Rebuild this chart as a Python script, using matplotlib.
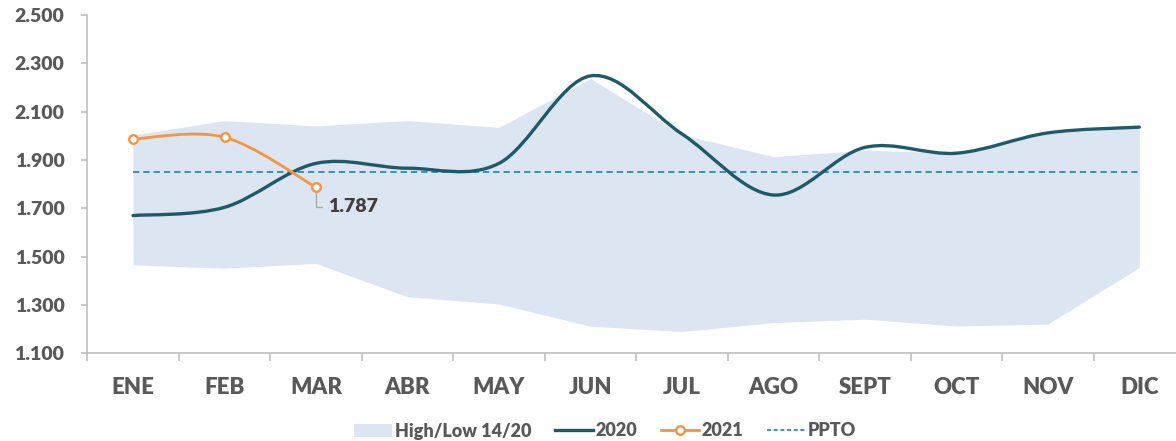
import matplotlib
matplotlib.use("Agg")
import matplotlib.pyplot as plt
import numpy as np
from matplotlib.path import Path
from matplotlib.patches import PathPatch, Patch
from matplotlib.lines import Line2D
from matplotlib.ticker import FixedLocator, FuncFormatter

plt.rcParams['font.family'] = ['Lato', 'DejaVu Sans']
plt.rcParams['font.weight'] = 800

months = ["ENE", "FEB", "MAR", "ABR", "MAY", "JUN", "JUL", "AGO", "SEPT", "OCT", "NOV", "DIC"]
band_low = [1466, 1452, 1472, 1334, 1304, 1212, 1190, 1227, 1241, 1213, 1221, 1455]
band_high = [2003, 2063, 2041, 2063, 2035, 2237, 2005, 1914, 1941, 1928, 2010, 2035]
s2020 = [1670, 1704, 1886, 1866, 1886, 2248, 2008, 1755, 1952, 1928, 2012, 2036]
s2021 = [1987, 1994, 1787]
ppto = 1850
y_ticks = [1100, 1300, 1500, 1700, 1900, 2100, 2300, 2500]

TXT = "#595959"
C2020 = "#1E5A68"
C2021 = "#F7943F"
CBAND = "#DCE6F2"
CPPTO = "#2B8CAB"
W = 800


def smooth_path(xs, ys):
    xs = list(map(float, xs)); ys = list(map(float, ys))
    n = len(xs)
    verts = [(xs[0], ys[0])]
    codes = [Path.MOVETO]
    for i in range(n - 1):
        p0 = i - 1 if i > 0 else i
        p3 = i + 2 if i + 2 < n else i + 1
        c1 = (xs[i] + (xs[i + 1] - xs[p0]) / 6.0, ys[i] + (ys[i + 1] - ys[p0]) / 6.0)
        c2 = (xs[i + 1] - (xs[p3] - xs[i]) / 6.0, ys[i + 1] - (ys[p3] - ys[i]) / 6.0)
        verts += [c1, c2, (xs[i + 1], ys[i + 1])]
        codes += [Path.CURVE4] * 3
    return Path(verts, codes)


fig = plt.figure(figsize=(11.76, 4.41), dpi=100)
ax = fig.add_axes([87.3 / 1176, 1 - 353.3 / 441, (1185 - 87.3) / 1176, (353.3 - 15) / 441])

x = np.arange(len(months))
ax.fill_between(x, band_low, band_high, color=CBAND, lw=0, zorder=1)
ax.plot([0, len(months) - 1], [ppto, ppto], color=CPPTO, lw=1.3, ls=(0, (3.5, 2.2)), zorder=2)

p2020 = PathPatch(smooth_path(x, s2020), fill=False, edgecolor=C2020, lw=2.4,
                  capstyle='round', joinstyle='round', zorder=3)
ax.add_patch(p2020)
x21 = np.arange(len(s2021))
p2021 = PathPatch(smooth_path(x21, s2021), fill=False, edgecolor=C2021, lw=2.0,
                  capstyle='round', joinstyle='round', zorder=4)
ax.add_patch(p2021)
ax.plot(x21, s2021, ls='none', marker='o', ms=6.2, mfc='white', mec=C2021, mew=1.7, zorder=5)

# data label for last 2021 value
lx, ly = x21[-1], s2021[-1]
ax.annotate(f"{ly:,.0f}".replace(",", "."), xy=(lx, ly), xytext=(8.5, -14),
            textcoords='offset points', ha='left', va='center', fontsize=14,
            fontweight=W, color="#404040", zorder=6,
            arrowprops=dict(arrowstyle='-', color="#A6A6A6", lw=0.9,
                            connectionstyle="angle,angleA=0,angleB=90,rad=0",
                            shrinkA=2, shrinkB=4))

ax.set_xlim(-0.5, len(months) - 0.5)
ax.set_ylim(y_ticks[0], y_ticks[-1])
ax.yaxis.set_major_locator(FixedLocator(y_ticks))
ax.yaxis.set_major_formatter(FuncFormatter(lambda v, p: f"{v:,.0f}".replace(",", ".")))
ax.xaxis.set_major_locator(FixedLocator(np.arange(-0.5, len(months), 1.0)))
ax.xaxis.set_major_formatter(FuncFormatter(lambda v, p: ""))
ax.xaxis.set_minor_locator(FixedLocator(x))
ax.set_xticklabels(months, minor=True, fontweight=W)

for s in ['top', 'right']:
    ax.spines[s].set_visible(False)
for s in ['left', 'bottom']:
    ax.spines[s].set_color("#BFBFBF")
    ax.spines[s].set_linewidth(1.2)

ax.tick_params(axis='x', which='major', length=5.8, width=1.2, color="#BFBFBF")
ax.tick_params(axis='x', which='minor', length=0, pad=17, labelsize=16, labelcolor=TXT)
ax.tick_params(axis='y', which='major', length=4.5, width=1.2, color="#BFBFBF",
               pad=12, labelsize=14, labelcolor=TXT)

handles = [
    Patch(facecolor=CBAND, edgecolor='none'),
    Line2D([], [], color=C2020, lw=2.4),
    Line2D([], [], color=C2021, lw=2.0, marker='o', ms=6.2, mfc='white', mec=C2021, mew=1.7),
    Line2D([], [], color=CPPTO, lw=1.3, ls=(0, (2.2, 1.5))),
]
labels = ["High/Low 14/20", "2020", "2021", "PPTO"]
leg = fig.legend(handles, labels, loc='center', bbox_to_anchor=(605 / 1176, 1 - 431 / 441),
                 ncol=4, frameon=False, handlelength=2.1, handletextpad=0.15,
                 columnspacing=1.3, prop={'size': 13, 'weight': W})
for t in leg.get_texts():
    t.set_color(TXT)

fig.savefig("out.png", dpi=100)
